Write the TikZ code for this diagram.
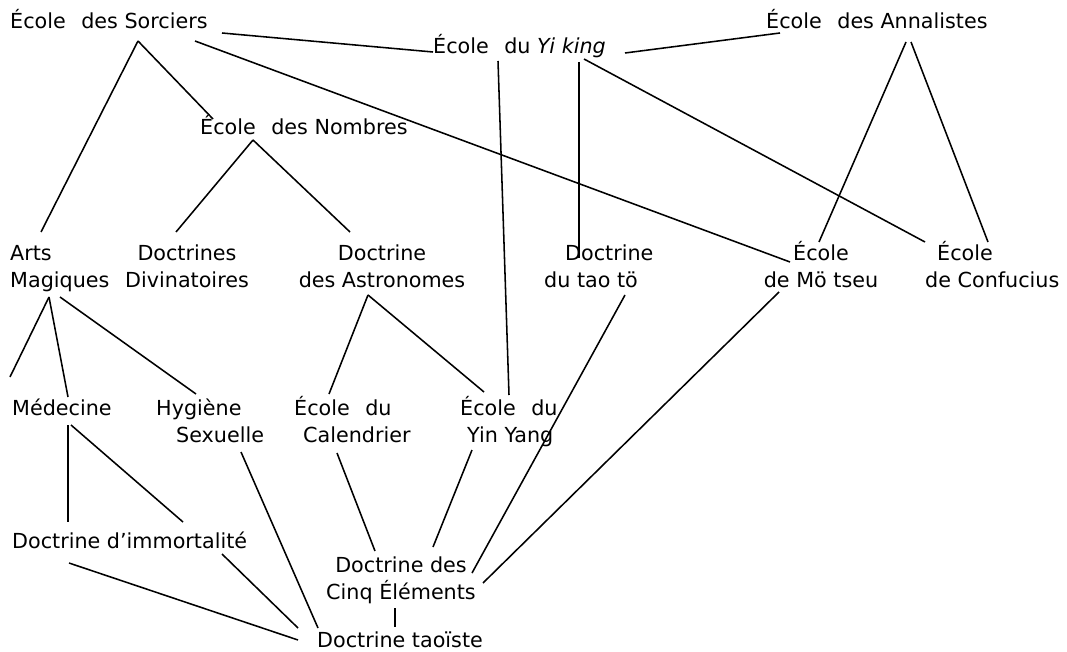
\documentclass[tikz,border=0pt]{standalone}
\usepackage{fontspec}
\setmainfont{DejaVu Sans}
\newcommand\tstrut{\rule{0pt}{21pt}}
\newcommand\gp{\hspace{0.75em}}
\begin{document}
\begin{tikzpicture}[x=1pt,y=-1pt,
  lbl/.style={inner sep=0pt,font=\fontsize{20.7}{27}\selectfont},
  conn/.style={line width=1.55pt,black}]
\fill[white] (0,0) rectangle (1067,652);
\useasboundingbox (0,0) rectangle (1067,652);
% labels
\node[lbl,anchor=base west] (sorc) at (10,29) {École\gp des Sorciers};
\node[lbl,anchor=base west] (yi) at (433,54) {École\gp du \textit{Yi king}};
\node[lbl,anchor=base west] (ann) at (766,29) {École\gp des Annalistes};
\node[lbl,anchor=base west] (nom) at (200,135) {École\gp des Nombres};
\node[lbl,anchor=north west,align=left] (arts) at (10,239) {\tstrut Arts\\Magiques};
\node[lbl,anchor=north,align=center] (divin) at (187,239) {\tstrut Doctrines\\Divinatoires};
\node[lbl,anchor=north,align=center] (astr) at (382,239) {\tstrut Doctrine\\des Astronomes};
\node[lbl,anchor=north west,align=left] (tao) at (544,239) {\tstrut\hspace*{21pt}Doctrine\\du tao tö};
\node[lbl,anchor=north,align=center] (mo) at (821,239) {\tstrut École\\de Mö tseu};
\node[lbl,anchor=north west,align=left] (conf) at (925,239) {\tstrut\hspace*{12pt}École\\de Confucius};
\node[lbl,anchor=base west] (med) at (12,415) {Médecine};
\node[lbl,anchor=north west,align=left] (hyg) at (156,394) {\tstrut Hygiène\\\hspace*{20pt}Sexuelle};
\node[lbl,anchor=north west,align=left] (cal) at (294,394) {\tstrut École\gp du\\\hspace*{9pt}Calendrier};
\node[lbl,anchor=north west,align=left] (yy) at (460,394) {\tstrut École\gp du\\\hspace*{7pt}Yin Yang};
\node[lbl,anchor=base west] (imm) at (12,548) {Doctrine d’immortalité};
\node[lbl,anchor=north,align=center] (cinq) at (401,551) {\tstrut Doctrine des\\Cinq Éléments};
\node[lbl,anchor=base west] (taoiste) at (317,647) {Doctrine taoïste};
% connector end points
\coordinate (sorc-r) at (222,33);  \coordinate (yi-l) at (433,52);
\coordinate (sorc-m) at (195,41);  \coordinate (mo-t) at (790,262);
\coordinate (sorc-b) at (138,41);  \coordinate (arts-t) at (41,232);
\coordinate (nom-t) at (213,119);
\coordinate (nom-b) at (253,140);  \coordinate (divin-t) at (176,232);
\coordinate (astr-t) at (350,232);
\coordinate (yi-b) at (498,61);    \coordinate (yy-t) at (509,395);
\coordinate (yi-r) at (625,53);    \coordinate (ann-l) at (780,33);
\coordinate (yi-b2) at (579,62);   \coordinate (tao-t) at (579,258);
\coordinate (yi-b3) at (584,59);   \coordinate (conf-t) at (925,242);
\coordinate (ann-b1) at (906,42);  \coordinate (mo-t2) at (819,242);
\coordinate (ann-b2) at (911,42);  \coordinate (conf-t2) at (988,242);
\coordinate (arts-b) at (49,297);  \coordinate (free) at (10,377);
\coordinate (med-t) at (68,397);
\coordinate (arts-b2) at (60,297); \coordinate (hyg-t) at (196,394);
\coordinate (astr-b) at (368,295); \coordinate (cal-t) at (329,394);
\coordinate (yy-t2) at (484,392);
\coordinate (med-b) at (68,425);   \coordinate (imm-t) at (68,522);
\coordinate (med-b2) at (71,425);  \coordinate (imm-t2) at (183,522);
\coordinate (imm-b) at (69,563);   \coordinate (tst-l) at (298,640);
\coordinate (imm-b2) at (222,554); \coordinate (tst-l2) at (298,628);
\coordinate (hyg-b) at (241,452);  \coordinate (tst-t) at (318,628);
\coordinate (cal-b) at (337,453);  \coordinate (cinq-t) at (375,551);
\coordinate (yy-b) at (472,450);   \coordinate (cinq-t2) at (433,547);
\coordinate (tao-b) at (625,295);  \coordinate (cinq-r) at (472,573);
\coordinate (mo-b) at (779,292);   \coordinate (cinq-r2) at (483,583);
\coordinate (cinq-b) at (395,608); \coordinate (tst-t2) at (395,627);
% connectors
\draw[conn] (sorc-r) -- (yi-l);
\draw[conn] (sorc-m) -- (mo-t);
\draw[conn] (sorc-b) -- (arts-t);
\draw[conn] (sorc-b) -- (nom-t);
\draw[conn] (nom-b) -- (divin-t);
\draw[conn] (nom-b) -- (astr-t);
\draw[conn] (yi-b) -- (yy-t);
\draw[conn] (yi-r) -- (ann-l);
\draw[conn] (yi-b2) -- (tao-t);
\draw[conn] (yi-b3) -- (conf-t);
\draw[conn] (ann-b1) -- (mo-t2);
\draw[conn] (ann-b2) -- (conf-t2);
\draw[conn] (arts-b) -- (free);
\draw[conn] (arts-b) -- (med-t);
\draw[conn] (arts-b2) -- (hyg-t);
\draw[conn] (astr-b) -- (cal-t);
\draw[conn] (astr-b) -- (yy-t2);
\draw[conn] (med-b) -- (imm-t);
\draw[conn] (med-b2) -- (imm-t2);
\draw[conn] (imm-b) -- (tst-l);
\draw[conn] (imm-b2) -- (tst-l2);
\draw[conn] (hyg-b) -- (tst-t);
\draw[conn] (cal-b) -- (cinq-t);
\draw[conn] (yy-b) -- (cinq-t2);
\draw[conn] (tao-b) -- (cinq-r);
\draw[conn] (mo-b) -- (cinq-r2);
\draw[conn] (cinq-b) -- (tst-t2);
\end{tikzpicture}
\end{document}
